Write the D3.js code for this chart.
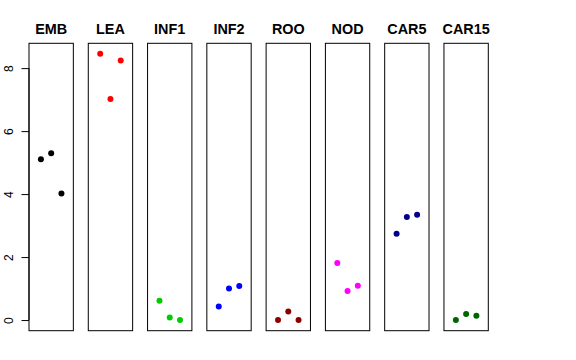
<!DOCTYPE html>
<html><head><meta charset="utf-8">
<script src="https://cdn.jsdelivr.net/npm/d3@7"></script>
<style>body{margin:0;background:#fff}</style>
</head><body>
<svg id="c" width="576" height="360"></svg>
<script>
const categories = ["EMB","LEA","INF1","INF2","ROO","NOD","CAR5","CAR15"];
const colors = ["#000000","#FF0000","#00CD00","#0000FF","#8B0000","#FF00FF","#00008B","#006400"];
const values = [
  [5.11, 5.30, 4.02],
  [8.46, 7.02, 8.24],
  [0.61, 0.08, 0.00],
  [0.43, 1.00, 1.08],
  [0.00, 0.27, 0.00],
  [1.81, 0.92, 1.09],
  [2.74, 3.27, 3.34],
  [0.00, 0.19, 0.14]
];
const yTicks = [0, 2, 4, 6, 8];

const svg = d3.select("#c");
const plotTop = 43.3, plotBottom = 330.7;
const y = d3.scaleLinear().domain([-0.338, 8.788]).range([plotBottom, plotTop]);
const band = d3.scaleBand().domain(categories).range([29, 488.3]).paddingInner(0.252).paddingOuter(0);
const xIn = d3.scaleLinear().domain([-0.16, 4.16]).range([0, band.bandwidth()]);

categories.forEach((cat, i) => {
  const g = svg.append("g").attr("transform", `translate(${band(cat)},0)`);
  g.append("rect").attr("x", 0).attr("y", plotTop).attr("width", band.bandwidth()).attr("height", plotBottom - plotTop)
    .attr("fill", "none").attr("stroke", "#000").attr("stroke-width", 1);
  g.append("text").attr("x", band.bandwidth() / 2).attr("y", 34.3).attr("text-anchor", "middle")
    .attr("font-family", "Liberation Sans, Arial, sans-serif").attr("font-weight", "bold").attr("font-size", "14.4px")
    .text(cat);
  g.selectAll("circle").data(values[i]).enter().append("circle")
    .attr("cx", (d, j) => xIn(j + 1)).attr("cy", d => y(d)).attr("r", 3).attr("fill", colors[i]);
});

const axis = d3.axisLeft(y).tickValues(yTicks).tickSize(7.5).tickPadding(0).tickFormat(d3.format("d"));
const ag = svg.append("g").attr("transform", `translate(${band(categories[0])},0)`).call(axis);
ag.select(".domain").attr("d", `M0,${y(0)}V${y(8)}`).attr("stroke", "#000");
ag.selectAll(".tick line").attr("stroke", "#000");
ag.selectAll(".tick text").attr("font-family", "Liberation Sans, Arial, sans-serif").attr("font-size", "12px")
  .attr("fill", "#000").attr("text-anchor", "middle").attr("dy", null)
  .attr("transform", "translate(-16.3,0) rotate(-90)").attr("x", 0).attr("y", 0);
</script>
</body></html>
